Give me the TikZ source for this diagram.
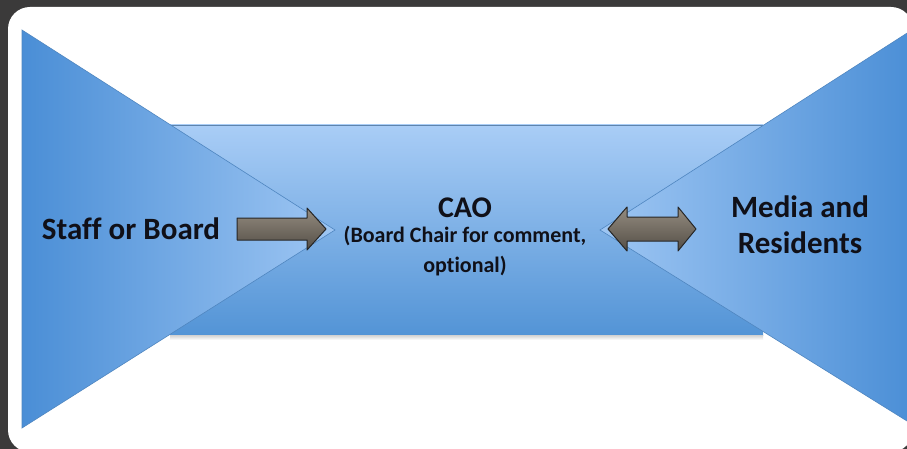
\documentclass[tikz,border=0pt]{standalone}
\usepackage{fontspec}
\setmainfont{Carlito}[Ligatures=NoCommon]
\definecolor{bgdark}{HTML}{3B3A3A}
\definecolor{triDark}{HTML}{4A8ED6}
\definecolor{triLight}{HTML}{9EC6F3}
\definecolor{rectTop}{HTML}{A9CDF6}
\definecolor{rectBot}{HTML}{5394D6}
\definecolor{edgeBlue}{HTML}{4F86C0}
\definecolor{arrTop}{HTML}{948C80}
\definecolor{arrBot}{HTML}{544E46}
\definecolor{txt}{HTML}{101018}
\tikzset{
  tri/.style={draw=edgeBlue, line width=0.6pt},
  blockarrow/.style={draw=black!85, line width=1pt, line join=round, top color=arrTop, bottom color=arrBot},
  bigtext/.style={font=\bfseries\fontsize{31}{35}\selectfont, text=txt, align=center, inner sep=0pt},
  smalltext/.style={font=\bfseries\fontsize{22}{30}\selectfont, text=txt, align=center, inner sep=0pt}
}
\begin{document}
\begin{tikzpicture}[x=1pt,y=-1pt]
\useasboundingbox (0,0) rectangle (907,449);
\clip (0,0) rectangle (907,449);
\fill[bgdark] (0,0) rectangle (907,449);
\fill[white, rounded corners=22pt] (8,7) rectangle (913,452);
% central band
\shade[top color=rectTop, bottom color=rectBot] (170,125) rectangle (763,335);
\draw[edgeBlue!70!gray, line width=0.6pt] (170,125) -- (763,125);
\shade[top color=black!18, bottom color=white] (170,335) rectangle (763,340);
% left triangle
\shade[tri, left color=triDark, right color=triLight] (22,30) -- (335,230) -- (22,428) -- cycle;
% right triangle
\shade[tri, left color=triLight, right color=triDark] (915,28) -- (600,230) -- (915,426) -- cycle;
% arrows
\path[blockarrow] (237,218) -- (307,218) -- (307,208) -- (326,229) -- (307,250) -- (307,240) -- (237,240) -- cycle;
\path[blockarrow] (608,229) -- (627,207) -- (627,217) -- (678,217) -- (678,207) -- (696,229) -- (678,251) -- (678,241) -- (627,241) -- (627,251) -- cycle;
% texts
\node[bigtext, anchor=base] (staff) at (131,239) {Staff or Board};
\node[bigtext, anchor=base, font=\bfseries\fontsize{30}{30}\selectfont] (cao) at (465,217) {CAO};
\node[smalltext, anchor=base] (chair) at (465,242) {(Board Chair for comment,};
\node[smalltext, anchor=base] (opt) at (465,272) {optional)};
\node[bigtext, anchor=base] (media) at (800,218) {Media and};
\node[bigtext, anchor=base] (res) at (800,253) {Residents};
\end{tikzpicture}
\end{document}
